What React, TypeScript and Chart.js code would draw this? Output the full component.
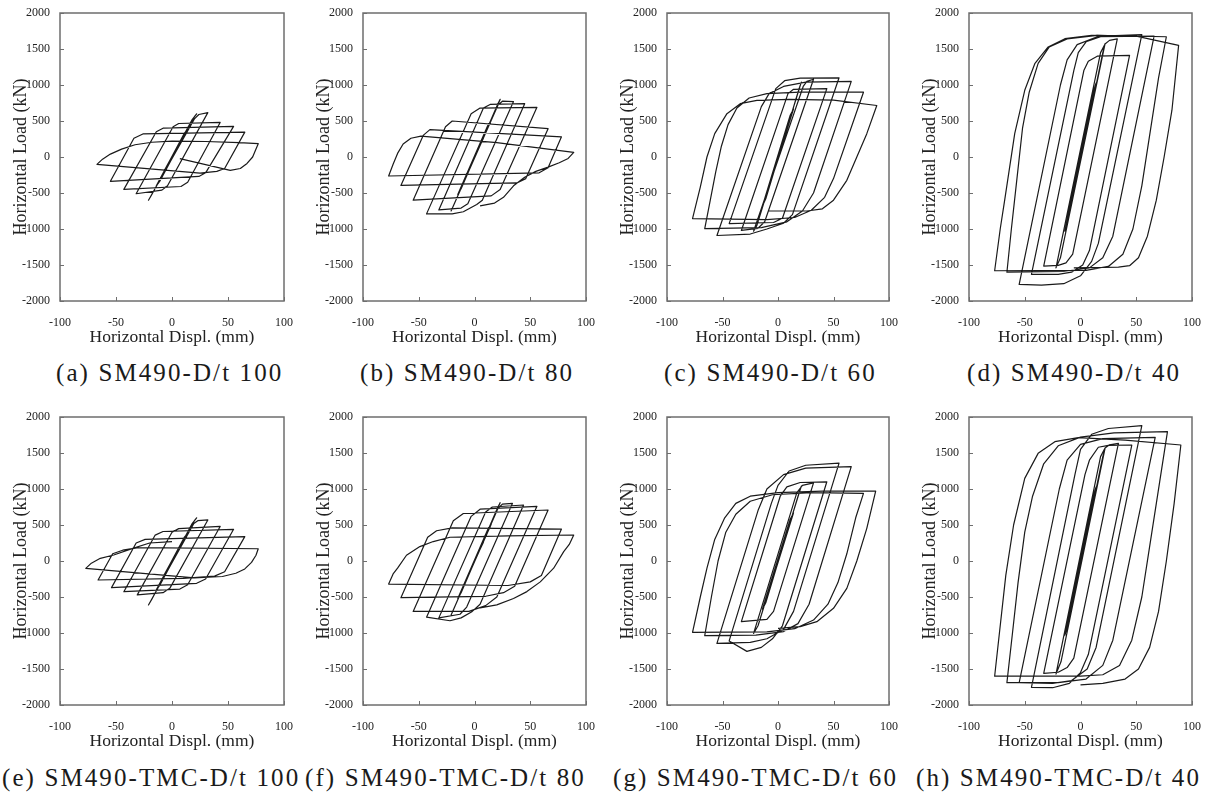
import React, { useEffect, useRef } from "react";
import { Chart, registerables } from "chart.js";

Chart.register(...registerables);

const X_MIN = -100;
const X_MAX = 100;
const X_STEP = 50;
const Y_MIN = -2000;
const Y_MAX = 2000;
const Y_STEP = 500;
const X_TICKS = [-100, -50, 0, 50, 100];
const Y_TICKS = [-2000, -1500, -1000, -500, 0, 500, 1000, 1500, 2000];
const X_TITLE = "Horizontal Displ. (mm)";
const Y_TITLE = "Horizontal Load (kN)";

// (a) SM490-D/t 100 : [displacement mm, load kN]
const LOOP_A: number[][] = [
  [0, 0], [7, 180], [5, 150], [-7, -190], [-5, -150], [14, 380], [11, 330], [-14, -400], [-11, -340],
  [20, 560], [22, 600], [18, 520], [-18, -520], [-21, -600],
  [20, 530], [24, 590], [32, 616],
  [-4, -400], [-9, -460], [-32, -510],
  [1, 420], [6, 465], [43, 480],
  [14, -350], [8, -410], [-43, -450],
  [-14, 350], [-8, 400], [55, 426],
  [30, -220], [24, -270], [-55, -338],
  [-34, 260], [-26, 320], [65, 345],
  [47, -160], [40, -200], [25, -225], [-67, -102],
  [-62, -30], [-55, 40], [-45, 110], [-33, 170], [-18, 205], [0, 220], [30, 215], [60, 200], [77, 185],
  [75, 110], [72, 0], [67, -90], [61, -160], [52, -185], [7, -23],
];

// (b) SM490-D/t 80
const LOOP_B: number[][] = [
  [0, 0], [8, 260], [6, 220], [-8, -270], [-6, -220], [15, 510], [12, 440], [-15, -520], [-12, -440],
  [21, 740], [23, 800], [-19, -680], [-21, -750],
  [21, 720], [25, 775], [35, 770],
  [-6, -650], [-12, -710], [-32, -735],
  [8, 680], [14, 730], [45, 740],
  [7, -600], [2, -660], [-10, -760], [-20, -790], [-43, -790],
  [-3, 600], [5, 680], [56, 690],
  [23, -450], [15, -540], [-55, -600],
  [-26, 420], [-20, 500], [66, 394],
  [46, -300], [38, -360], [-66, -395],
  [-46, 300], [-40, 380], [78, 280],
  [66, -150], [58, -220], [-77, -264],
  [-73, -100], [-69, 50], [-64, 180], [-57, 260], [-48, 290], [20, 200], [89, 65],
  [84, -20], [76, -80], [66, -140], [55, -200], [45, -280], [35, -400], [26, -560], [18, -640], [5, -680],
];

// (c) SM490-D/t 60
const LOOP_C: number[][] = [
  [0, 0], [7, 330], [5, 280], [-7, -330], [-5, -270], [14, 670], [11, 580], [-14, -680], [-11, -580],
  [19, 950], [21, 1040], [-19, -950], [-22, -1030],
  [22.7, 980], [26, 1050], [32, 1080],
  [-12, -900], [-18, -990], [-33, -1020],
  [9, 880], [14, 940], [44, 950],
  [4, -850], [-4, -910], [-44, -925],
  [-2, 950], [6, 1060], [20, 1095], [55, 1100],
  [13, -800], [5, -920], [-10, -1000], [-25, -1070], [-55, -1090],
  [-15, 700], [-8, 880], [5, 980], [25, 1040], [66, 1050],
  [32, -500], [22, -750], [8, -900], [-15, -980], [-66, -995],
  [-61, -600], [-56, -200], [-51, 150], [-45, 450], [-37, 680], [-26, 820], [-10, 880], [20, 900], [77, 900],
  [50, -300], [42, -560], [30, -740], [15, -840], [-10, -870], [-77, -856],
  [-70, -417], [-64, 0], [-57, 324], [-46, 602], [-34, 741], [-19, 787], [10, 800], [50, 790], [89, 715],
  [80, 324], [71, 0], [62, -324], [50, -600], [40, -720], [26, -750], [-9, -750],
];

// (d) SM490-D/t 40
const LOOP_D: number[][] = [
  [0, 0], [7, 510], [5, 440], [-7, -510], [-5, -430], [14, 1030], [11, 880], [-14, -1030], [-11, -880],
  [20, 1450], [22, 1570], [-18, -1400], [-22, -1540],
  [18, 1450], [22, 1570], [26, 1620], [33, 1640],
  [-7, -1350], [-13, -1470], [-20, -1505], [-33, -1515],
  [3, 1200], [7, 1330], [15, 1400], [44, 1412],
  [8, -1300], [2, -1500], [-8, -1600], [-20, -1630], [-44, -1630],
  [-6, 1200], [-2, 1450], [5, 1600], [20, 1680], [55, 1700],
  [16, -1200], [10, -1450], [0, -1650], [-15, -1760], [-35, -1780], [-55, -1770],
  [-18, 1000], [-12, 1350], [-3, 1560], [15, 1670], [66, 1680],
  [29, -1100], [20, -1400], [8, -1540], [-15, -1590], [-66, -1600],
  [-62, -1000], [-57, -300], [-52, 400], [-46, 900], [-38, 1300], [-28, 1530], [-12, 1640], [15, 1690], [77, 1670],
  [70, 1100], [62, 300], [55, -400], [47, -1000], [38, -1350], [25, -1520], [5, -1575], [-77, -1580],
  [-72, -1000], [-68, -600], [-59, 324], [-50, 926], [-41, 1296], [-29, 1528], [-14, 1643], [10, 1690], [50, 1680], [88, 1550],
  [82, 650], [75, 0], [68, -600], [60, -1100], [52, -1400], [44, -1510], [34, -1530], [-6, -1540],
];

// (e) SM490-TMC-D/t 100
const LOOP_E: number[][] = [
  [0, 0], [7, 180], [5, 150], [-7, -190], [-5, -150], [14, 380], [11, 330], [-14, -400], [-11, -340],
  [20, 560], [22, 600], [18, 520], [-18, -530], [-21, -611],
  [19.5, 520], [23, 560], [32, 570],
  [-2, -380], [-8, -440], [-31, -470],
  [0, 400], [6, 450], [43, 480],
  [14, -330], [7, -390], [-43, -426],
  [-15, 360], [-8, 410], [55, 440],
  [30, -250], [22, -310], [-54, -370],
  [-32, 250], [-24, 300], [65, 338],
  [47, -150], [38, -210], [10, -240], [-66, -264],
  [-53, 100], [-44, 150], [-30, 185], [77, 170],
  [75, 80], [71, -20], [65, -110], [57, -170], [45, -215], [20, -235], [-77, -102],
  [-72, -30], [-64, 37], [-52, 83], [-35, 176], [-20, 250], [0, 270],
];

// (f) SM490-TMC-D/t 80
const LOOP_F: number[][] = [
  [0, 0], [8, 260], [6, 220], [-8, -270], [-6, -220], [15, 510], [12, 440], [-15, -520], [-12, -440],
  [21, 750], [23, 810], [-19, -680], [-21, -750],
  [21, 730], [25, 790], [34, 800],
  [-7, -640], [-13, -740], [-32, -790],
  [10, 680], [16, 750], [44, 778],
  [5, -600], [-2, -700], [-12, -790], [-22, -830], [-43, -780],
  [-3, 620], [5, 720], [56, 760],
  [20, -500], [10, -620], [-5, -700], [-55, -700],
  [-19, 560], [-10, 660], [66, 708],
  [36, -350], [26, -440], [10, -490], [-66, -510],
  [-42, 330], [-34, 420], [-20, 460], [78, 444],
  [60, -200], [50, -290], [30, -340], [-77, -320],
  [-73, -180], [-69, -100], [-61, 80], [-49, 200], [-37, 270], [-22, 330], [30, 350], [89, 361],
  [85, 230], [80, 130], [71, -100], [59, -290], [47, -425], [35, -520], [20, -610], [5, -650],
];

// (g) SM490-TMC-D/t 60
const LOOP_G: number[][] = [
  [0, 0], [7, 330], [5, 280], [-7, -330], [-5, -270], [14, 670], [11, 580], [-14, -670], [-11, -580],
  [19, 950], [21, 1040], [-18, -900], [-22, -1005],
  [17, 950], [22, 1050], [32, 1085],
  [-4, -700], [-10, -810], [-33, -843],
  [2, 900], [8, 1030], [20, 1090], [44, 1100],
  [4, -900], [-5, -1080], [-15, -1200], [-28, -1255], [-44, -1110],
  [-6, 800], [0, 1050], [10, 1250], [25, 1330], [55, 1360],
  [14, -700], [5, -950], [-10, -1080], [-25, -1130], [-55, -1144],
  [-18, 700], [-10, 1000], [5, 1200], [25, 1290], [66, 1310],
  [28, -600], [18, -870], [5, -980], [-20, -1030], [-66, -1037],
  [-60, -500], [-54, 0], [-47, 400], [-38, 650], [-25, 830], [-5, 920], [30, 950], [77, 940],
  [70, 600], [62, 100], [54, -300], [45, -600], [32, -820], [15, -940], [-10, -985], [-77, -991],
  [-70, -500], [-64, -100], [-57, 300], [-48, 600], [-38, 800], [-25, 900], [0, 950], [40, 970], [88, 972],
  [80, 454], [71, 0], [62, -380], [50, -657], [35, -843], [20, -912], [0, -935],
];

// (h) SM490-TMC-D/t 40
const LOOP_H: number[][] = [
  [0, 0], [7, 510], [5, 440], [-7, -510], [-5, -430], [14, 1030], [11, 880], [-14, -1030], [-11, -880],
  [20, 1450], [22, 1565], [-17.5, -1400], [-22, -1570],
  [18, 1450], [22, 1570], [26, 1615], [34, 1634],
  [-6, -1350], [-12, -1480], [-20, -1545], [-33, -1560],
  [4, 1200], [8, 1400], [16, 1580], [25, 1605], [46, 1611],
  [7, -1300], [0, -1550], [-10, -1700], [-25, -1760], [-44, -1755],
  [-5, 1200], [0, 1550], [10, 1760], [25, 1840], [55, 1880],
  [14, -1200], [6, -1500], [-8, -1660], [-25, -1700], [-55, -1690],
  [-19, 1000], [-12, 1400], [0, 1620], [20, 1700], [67, 1718],
  [29, -1100], [20, -1450], [5, -1640], [-20, -1690], [-66, -1690],
  [-61, -1000], [-56, -300], [-50, 400], [-43, 900], [-33, 1350], [-20, 1600], [0, 1720], [30, 1780], [78, 1796],
  [71, 1100], [63, 300], [55, -500], [46, -1100], [35, -1450], [20, -1580], [0, -1600], [-77, -1600],
  [-72, -900], [-67, -200], [-60, 500], [-50, 1148], [-38, 1495], [-23, 1657], [-2, 1713], [40, 1680], [90, 1611],
  [84, 800], [77, 0], [70, -700], [62, -1200], [52, -1500], [40, -1640], [20, -1700], [0, -1720],
];

const CAPTIONS = [
  "(a) SM490-D/t 100",
  "(b) SM490-D/t 80",
  "(c) SM490-D/t 60",
  "(d) SM490-D/t 40",
  "(e) SM490-TMC-D/t 100",
  "(f) SM490-TMC-D/t 80",
  "(g) SM490-TMC-D/t 60",
  "(h) SM490-TMC-D/t 40",
];

const SERIF = "'Liberation Serif', 'Times New Roman', Times, serif";

// Layout (chart-area pixel boxes on the page)
const COLS = [
  { L: 60, R: 284 },
  { L: 363, R: 586 },
  { L: 667, R: 889 },
  { L: 969, R: 1192 },
];
const ROWS = [
  { T: 13, B: 301, cap: 358 },
  { T: 417, B: 705, cap: 763 },
];
const CAP_LEFT = [56, 360, 664, 967, 2, 305, 613, 916];

const Y_AXIS_W = 60;
const X_AXIS_H = 47;
const PAD_T = 8;
const PAD_R = 12;

const framePlugin = {
  id: "frameBox",
  afterDatasetsDraw(chart: any) {
    const { ctx, chartArea, scales } = chart;
    const { left, right, top, bottom } = chartArea;
    ctx.save();
    ctx.strokeStyle = "#6e6e6e";
    ctx.lineWidth = 1.5;
    ctx.strokeRect(left, top, right - left, bottom - top);
    ctx.lineWidth = 1;
    ctx.beginPath();
    X_TICKS.forEach((v) => {
      const px = Math.round(scales.x.getPixelForValue(v)) + 0.5;
      ctx.moveTo(px, bottom);
      ctx.lineTo(px, bottom - 4);
    });
    Y_TICKS.forEach((v) => {
      const py = Math.round(scales.y.getPixelForValue(v)) + 0.5;
      ctx.moveTo(left, py);
      ctx.lineTo(left + 4, py);
    });
    ctx.stroke();
    ctx.restore();
  },
};

function Panel({ loop, L, R, T, B }: { loop: number[][]; L: number; R: number; T: number; B: number }) {
  const ref = useRef<HTMLCanvasElement | null>(null);
  const width = R - L + Y_AXIS_W + PAD_R;
  const height = B - T + PAD_T + X_AXIS_H;

  useEffect(() => {
    if (!ref.current) return;
    const chart = new Chart(ref.current, {
      type: "scatter",
      data: {
        datasets: [
          {
            data: loop.map(([x, y]) => ({ x, y })),
            showLine: true,
            borderColor: "#1a1a1a",
            borderWidth: 1.2,
            borderJoinStyle: "round",
            pointRadius: 0,
            pointHoverRadius: 0,
            fill: false,
            tension: 0,
          } as any,
        ],
      },
      options: {
        responsive: false,
        animation: false,
        devicePixelRatio: 1,
        events: [],
        layout: { padding: { top: PAD_T, right: PAD_R, bottom: 0, left: 0 } },
        plugins: { legend: { display: false }, tooltip: { enabled: false } },
        scales: {
          x: {
            type: "linear",
            min: X_MIN,
            max: X_MAX,
            grid: { display: false, drawTicks: false },
            border: { display: false },
            ticks: {
              stepSize: X_STEP,
              autoSkip: false,
              maxRotation: 0,
              padding: 15,
              color: "#222",
              font: { family: SERIF, size: 12 },
              callback: (v: any) => String(v),
            },
            title: {
              display: true,
              text: X_TITLE,
              color: "#222",
              font: { family: SERIF, size: 17.5 },
              padding: { top: 0, bottom: 0 },
            },
            afterFit: (s: any) => {
              s.height = X_AXIS_H;
              s.paddingLeft = 0;
              s.paddingRight = 0;
            },
          },
          y: {
            type: "linear",
            min: Y_MIN,
            max: Y_MAX,
            grid: { display: false, drawTicks: false },
            border: { display: false },
            ticks: {
              stepSize: Y_STEP,
              autoSkip: false,
              padding: 10,
              color: "#222",
              font: { family: SERIF, size: 12 },
              callback: (v: any) => String(v),
            },
            title: {
              display: true,
              text: Y_TITLE,
              color: "#222",
              font: { family: SERIF, size: 18 },
              padding: { top: 10, bottom: 0 },
            },
            afterFit: (s: any) => {
              s.width = Y_AXIS_W;
              s.paddingTop = 0;
              s.paddingBottom = 0;
            },
          },
        },
      } as any,
      plugins: [framePlugin],
    });
    return () => chart.destroy();
  }, [loop]);

  return (
    <canvas
      ref={ref}
      width={width}
      height={height}
      style={{ position: "absolute", left: L - Y_AXIS_W, top: T - PAD_T, width, height }}
    />
  );
}

const LOOPS = [LOOP_A, LOOP_B, LOOP_C, LOOP_D, LOOP_E, LOOP_F, LOOP_G, LOOP_H];

export default function App() {
  return (
    <div
      style={{
        position: "absolute",
        left: 0,
        top: 0,
        width: 1220,
        height: 794,
        background: "#fff",
        overflow: "hidden",
      }}
    >
      {LOOPS.map((loop, i) => {
        const col = COLS[i % 4];
        const row = ROWS[Math.floor(i / 4)];
        return <Panel key={i} loop={loop} L={col.L} R={col.R} T={row.T} B={row.B} />;
      })}
      {CAPTIONS.map((c, i) => {
        const row = ROWS[Math.floor(i / 4)];
        return (
          <div
            key={"cap" + i}
            style={{
              position: "absolute",
              left: CAP_LEFT[i],
              top: row.cap,
              height: 30,
              lineHeight: "30px",
              fontFamily: SERIF,
              fontSize: 25,
              letterSpacing: "2.1px",
              color: "#1a1a1a",
              whiteSpace: "nowrap",
            }}
          >
            {c}
          </div>
        );
      })}
    </div>
  );
}
